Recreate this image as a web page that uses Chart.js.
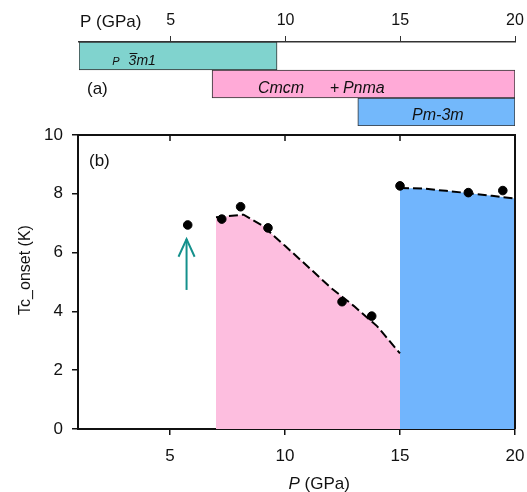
<!DOCTYPE html>
<html>
<head>
<meta charset="utf-8">
<script src="https://cdn.jsdelivr.net/npm/chart.js@4.4.0/dist/chart.umd.min.js"></script>
<style>
  body { margin: 0; background: #fff; }
  #wrap { position: relative; width: 527px; height: 492px; }
  canvas { position: absolute; left: 0; top: 0; }
</style>
</head>
<body>
<div id="wrap">
  <canvas id="tc" width="527" height="492"></canvas>
  <canvas id="phase" width="527" height="492"></canvas>
</div>
<script>
const FONT = '"Liberation Sans", Arial, sans-serif';

// panel (a): phase ranges
const phaseNames = ['P-3m1', 'Cmcm + Pnma', 'Pm-3m'];
const phaseStart = [1.0, 6.8, 13.15];
const phaseEnd = [9.63, 20, 20];
const phaseColors = ['#80d3ce', '#ffaad7', '#73b8fb'];
const phaseLabelP = [3.4, 11.5, 16.64];
const pTicks = [5, 10, 15, 20];

// panel (b): Tc onset vs pressure
const tcP = [5.77, 7.25, 8.07, 9.26, 12.48, 13.77, 15.0, 17.97, 19.47];
const tcVal = [6.94, 7.14, 7.56, 6.84, 4.33, 3.84, 8.27, 8.04, 8.11];

const fitPinkP = [7, 7.5, 8.2, 9, 10, 11, 12, 13, 14, 15];
const fitPinkT = [7.2, 7.24, 7.29, 6.93, 6.23, 5.52, 4.8, 4.18, 3.5, 2.57];
const fitBlueP = [15, 16, 17, 18, 19, 20];
const fitBlueT = [8.2, 8.18, 8.1, 8.02, 7.93, 7.84];

const arrowP = 5.72;
const arrowT = [4.73, 6.46];
const tTicks = [0, 2, 4, 6, 8, 10];

const toPts = (xs, ys) => xs.map((x, i) => ({ x: x, y: ys[i] }));

// labels inside the phase bars
const phaseText = {
  id: 'phaseText',
  afterDatasetsDraw(chart) {
    const ctx = chart.ctx;
    const x = chart.scales.x, y = chart.scales.y;
    ctx.save();
    ctx.fillStyle = '#111';
    ctx.textBaseline = 'alphabetic';
    // row 0: P -3m1
    let cx = x.getPixelForValue(phaseLabelP[0]);
    let by = y.getPixelForValue(0) + 9;
    ctx.font = 'italic 11px ' + FONT;
    const wP = ctx.measureText('P').width;
    ctx.font = 'italic 14px ' + FONT;
    const w3 = ctx.measureText('3m1').width;
    const w33 = ctx.measureText('3').width;
    let sx = cx - (wP + 9 + w3) / 2;
    ctx.font = 'italic 11px ' + FONT;
    ctx.fillText('P', sx, by);
    ctx.font = 'italic 14px ' + FONT;
    ctx.fillText('3m1', sx + wP + 9, by);
    ctx.strokeStyle = '#111';
    ctx.lineWidth = 1;
    ctx.beginPath();
    ctx.moveTo(sx + wP + 10, by - 11.5);
    ctx.lineTo(sx + wP + 9 + w33 + 1, by - 11.5);
    ctx.stroke();
    // row 1: Cmcm + Pnma
    cx = x.getPixelForValue(phaseLabelP[1]);
    by = y.getPixelForValue(1) + 9;
    ctx.font = 'italic 16px ' + FONT;
    ctx.textAlign = 'left';
    ctx.fillText('Cmcm', cx - 62, by);
    ctx.fillText('Pnma', cx + 23, by);
    ctx.font = '16px ' + FONT;
    ctx.fillText('+', cx + 10, by);
    // row 2: Pm-3m
    cx = x.getPixelForValue(phaseLabelP[2]);
    by = y.getPixelForValue(2) + 8;
    ctx.font = 'italic 16px ' + FONT;
    ctx.textAlign = 'center';
    ctx.fillText('Pm-3m', cx, by);
    // (a) and axis name
    ctx.textAlign = 'left';
    ctx.font = '17px ' + FONT;
    ctx.fillText('(a)', chart.chartArea.left + 8, y.getPixelForValue(1) + 9.5);
    ctx.fillText('P (GPa)', chart.chartArea.left + 1, 27);
    ctx.restore();
  }
};

new Chart(document.getElementById('phase'), {
  type: 'bar',
  data: {
    labels: phaseNames,
    datasets: [{
      data: phaseNames.map((n, i) => [phaseStart[i], phaseEnd[i]]),
      backgroundColor: phaseColors,
      borderColor: '#333',
      borderWidth: 1,
      borderSkipped: false,
      barPercentage: 1,
      categoryPercentage: 1
    }]
  },
  options: {
    indexAxis: 'y',
    responsive: false,
    animation: false,
    layout: { padding: { left: 79, right: 12, top: 0, bottom: 366 } },
    plugins: { legend: { display: false }, tooltip: { enabled: false } },
    scales: {
      x: {
        type: 'linear',
        position: 'top',
        min: 1,
        max: 20,
        afterBuildTicks: s => { s.ticks = pTicks.map(v => ({ value: v })); },
        afterFit: s => { s.height = 42; s.paddingLeft = 0; s.paddingRight = 0; },
        grid: { drawOnChartArea: false, tickLength: 6, color: '#333', lineWidth: 1 },
        border: { color: '#333', width: 1.5 },
        ticks: { font: { family: FONT, size: 16 }, color: '#111', padding: 6, maxRotation: 0 }
      },
      y: { display: false }
    }
  },
  plugins: [phaseText]
});

// frame, top ticks and labels for panel (b)
const frame = {
  id: 'frame',
  afterDatasetsDraw(chart) {
    const ctx = chart.ctx;
    const a = chart.chartArea;
    const x = chart.scales.x;
    ctx.save();
    ctx.strokeStyle = '#111';
    ctx.lineWidth = 2;
    ctx.beginPath();
    ctx.moveTo(a.left - 1, a.top);
    ctx.lineTo(a.right, a.top);
    ctx.lineTo(a.right, a.bottom);
    ctx.stroke();
    ctx.lineWidth = 1.5;
    pTicks.forEach(v => {
      const px = x.getPixelForValue(v);
      ctx.beginPath();
      ctx.moveTo(px, a.top);
      ctx.lineTo(px, a.top + 6);
      ctx.stroke();
    });
    ctx.fillStyle = '#111';
    ctx.textBaseline = 'alphabetic';
    ctx.font = '17px ' + FONT;
    ctx.fillText('(b)', a.left + 11, a.top + 31);
    const sx = (a.left + a.right) / 2 - 8;
    ctx.font = 'italic 17px ' + FONT;
    ctx.fillText('P', sx, 489);
    const wP = ctx.measureText('P ').width;
    ctx.font = '17px ' + FONT;
    ctx.fillText('(GPa)', sx + wP, 489);
    // y axis title
    ctx.translate(26, a.top + 135);
    ctx.rotate(-Math.PI / 2);
    ctx.textAlign = 'center';
    ctx.textBaseline = 'middle';
    ctx.font = '16px ' + FONT;
    ctx.fillText('Tc_onset (K)', 0, 0);
    ctx.restore();
  }
};

const dashed = { showLine: true, borderColor: '#000', borderWidth: 2, borderDash: [9, 4], pointRadius: 0, fill: 'origin' };

new Chart(document.getElementById('tc'), {
  type: 'scatter',
  data: {
    datasets: [
      { data: toPts(tcP, tcVal), backgroundColor: '#000', borderColor: '#000', pointRadius: 4.3 },
      { data: [{ x: arrowP, y: arrowT[0] }, { x: arrowP, y: arrowT[1] }], showLine: true, borderColor: '#14908c', borderWidth: 2, pointRadius: 0 },
      { data: [{ x: arrowP - 0.35, y: arrowT[1] - 0.6 }, { x: arrowP, y: arrowT[1] }, { x: arrowP + 0.35, y: arrowT[1] - 0.6 }], showLine: true, borderColor: '#14908c', borderWidth: 2, pointRadius: 0 },
      Object.assign({ data: toPts(fitPinkP, fitPinkT), backgroundColor: '#fdbedf' }, dashed),
      Object.assign({ data: toPts(fitBlueP, fitBlueT), backgroundColor: '#71b5fd' }, dashed)
    ]
  },
  options: {
    responsive: false,
    animation: false,
    layout: { padding: { left: 0, right: 12, top: 135, bottom: 0 } },
    plugins: { legend: { display: false }, tooltip: { enabled: false } },
    scales: {
      x: {
        type: 'linear',
        min: 1,
        max: 20,
        afterBuildTicks: s => { s.ticks = pTicks.map(v => ({ value: v })); },
        afterFit: s => { s.height = 63; s.paddingLeft = 0; s.paddingRight = 0; },
        grid: { drawOnChartArea: false, tickLength: 6, color: '#111', lineWidth: 1.5 },
        border: { color: '#111', width: 2 },
        ticks: { font: { family: FONT, size: 17 }, color: '#111', padding: 11, maxRotation: 0 }
      },
      y: {
        min: 0,
        max: 10,
        afterBuildTicks: s => { s.ticks = tTicks.map(v => ({ value: v })); },
        afterFit: s => { s.width = 78; },
        grid: { drawOnChartArea: false, tickLength: 6, color: '#111', lineWidth: 1.5 },
        border: { color: '#111', width: 2 },
        ticks: { font: { family: FONT, size: 17 }, color: '#111', padding: 9 }
      }
    }
  },
  plugins: [frame]
});
</script>
</body>
</html>
